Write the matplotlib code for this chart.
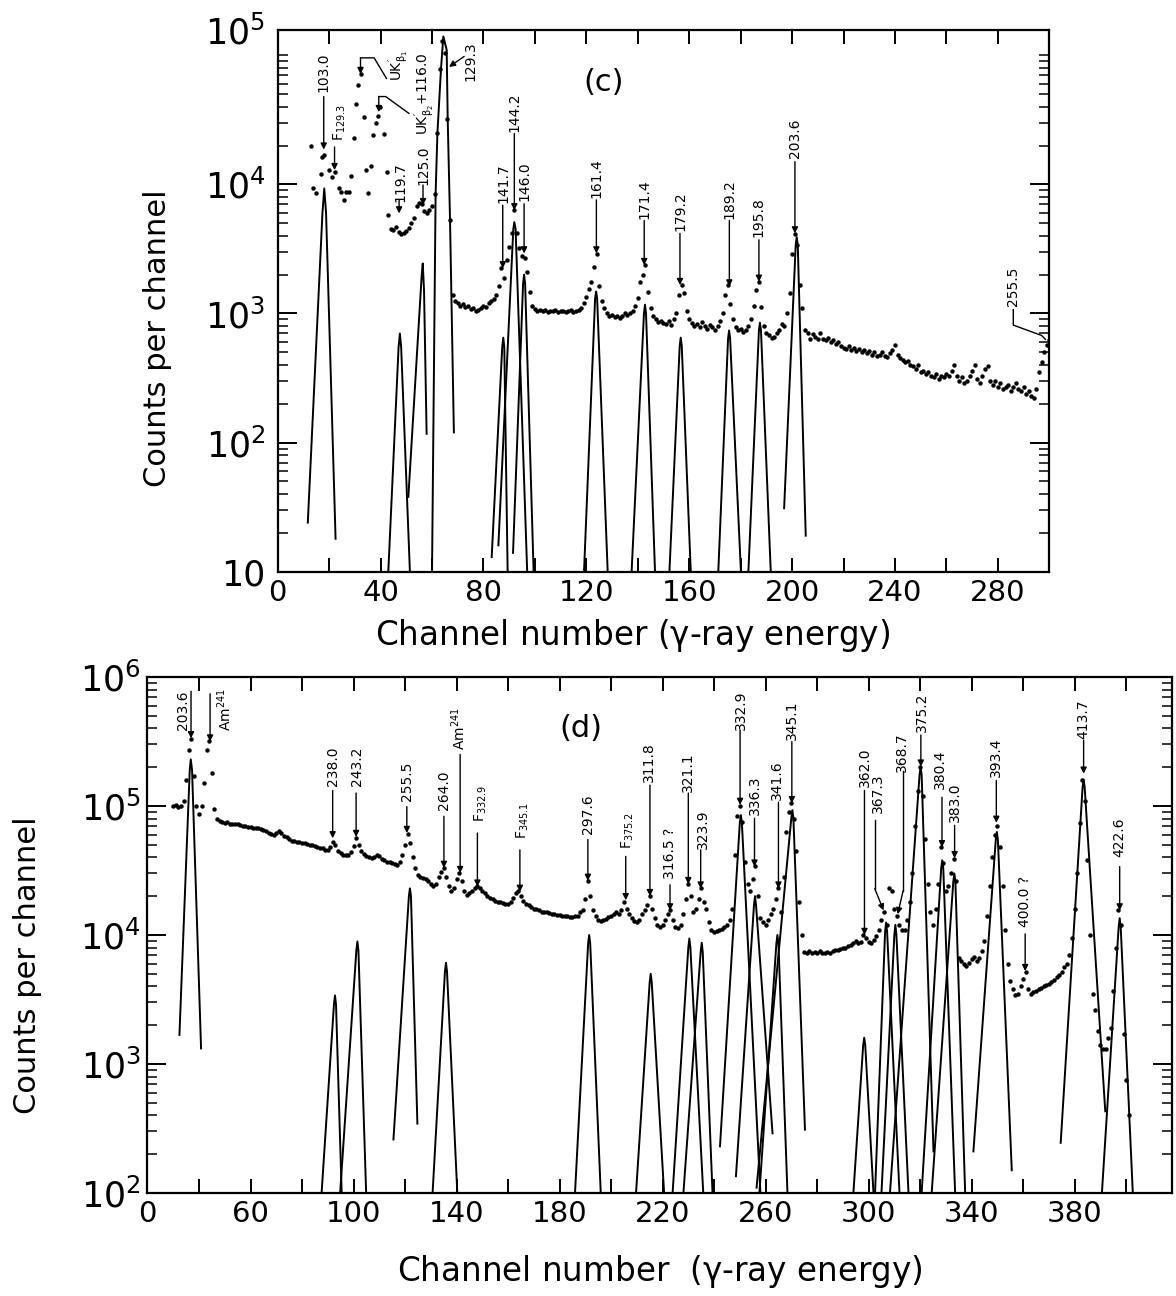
import numpy as np
import matplotlib
matplotlib.use("Agg")
import matplotlib.pyplot as plt
from matplotlib.ticker import FixedLocator, NullFormatter

plt.rcParams["font.family"] = ["DejaVu Sans"]
plt.rcParams["mathtext.fontset"] = "dejavusans"
plt.rcParams["mathtext.default"] = "regular"

# ======================= panel (c) data =======================
c_xray_ch = [12.9, 13.8, 14.7, 16.8, 17.4, 18.1, 19.9, 21.3, 22.2, 23.8, 24.8, 25.7, 26.7, 27.6,
             28.6, 29.5, 30.5, 31.4, 32.2, 33.4, 34.4, 35.3, 36.3, 37.2, 38.2, 39.1, 39.6, 41.5, 42.4]
c_xray_counts = [20000, 9400, 8600, 12000, 16400, 17000, 13000, 11400, 12500, 9400, 8800, 7600, 8700, 8800,
                 11600, 22700, 42000, 59000, 72000, 33000, 12900, 8600, 13900, 24000, 30000, 34000, 40000,
                 24500, 12400]

c_start_ch = 43
c_counts = [
    5800, 4500, 4400, 4700, 4300, 4100, 4200, 4350, 4600, 5000,
    5500, 6800, 7200, 7000, 6200, 6000, 6300, 6800, 8500, 25000,
    79000, 130000, 105000, 32000, 5300, 1400, 1250, 1200, 1150, 1180,
    1120, 1150, 1080, 1100, 1050, 1070, 1100, 1150, 1120, 1200,
    1250, 1300, 1400, 1620, 2240, 1900, 2600, 3300, 4200, 6300,
    4200, 3200, 2800, 2700, 2100, 1480, 1150, 1080, 1050, 1070,
    1040, 1060, 1030, 1050, 1040, 1060, 1030, 1050, 1040, 1020,
    1050, 1060, 1030, 1040, 1070, 1100, 1200, 1350, 1550, 1760,
    2300, 2900, 1620, 1250, 1100, 1000, 950, 980, 940, 960,
    920, 950, 1000, 970, 1000, 1050, 1150, 1310, 1760, 2000,
    2370, 1480, 1100, 950, 900, 860, 880, 840, 830, 870,
    820, 900, 1000, 1400, 1660, 1430, 1050, 900, 850, 800,
    830, 780, 860, 800, 760, 820, 780, 740, 800, 870,
    1000, 1380, 1660, 1180, 900, 780, 740, 760, 720, 740,
    800, 900, 1150, 1510, 1760, 1120, 800, 700, 680, 650,
    660, 700, 750, 830, 800, 1000, 1430, 2900, 4150, 3400,
    1660, 1100, 750, 700, 640, 690, 660, 630, 700, 640,
    620, 650, 600, 620, 580, 600, 560, 540, 530, 560,
    520, 540, 510, 530, 500, 520, 490, 510, 480, 500,
    470, 480, 500, 470, 460, 490, 520, 570, 480, 450,
    440, 420, 430, 400, 390, 370, 400, 350, 360, 340,
    350, 330, 320, 340, 310, 330, 320, 340, 330, 360,
    400, 330, 300, 320, 290, 300, 330, 360, 400, 310,
    290, 330, 370, 390, 300, 280, 300, 270, 290, 260,
    270, 280, 250, 270, 290, 260, 250, 270, 240, 250,
    230, 220, 260, 350, 420, 500, 570, 620,
]

# fitted peak shapes (vertices)
c_peak_x = [
    [11.7, 17.4, 18.1, 18.8, 22.5],
    [43.0, 47.0, 47.5, 48.0, 51.4],
    [50.8, 56.0, 56.4, 56.9, 57.9],
    [60.0, 61.4, 62.1, 63.5, 64.4, 65.7, 66.1, 67.0, 68.5],
    [83.2, 87.3, 87.7, 88.1, 89.4],
    [85.8, 91.6, 92.0, 92.5, 97.0],
    [91.5, 95.4, 95.8, 96.2, 99.5],
    [119.1, 123.4, 123.8, 124.2, 128.3],
    [137.6, 142.4, 142.8, 143.2, 146.7],
    [152.3, 156.3, 156.7, 157.1, 160.6],
    [171.3, 175.1, 175.5, 175.9, 180.1],
    [183.0, 187.1, 187.5, 187.9, 191.7],
    [196.9, 201.4, 201.8, 202.2, 205.3],
]
c_peak_y = [
    [24, 6000, 9300, 6000, 18],
    [10, 550, 700, 550, 10],
    [38, 2000, 2440, 1500, 117],
    [10, 8500, 25000, 79000, 140000, 110000, 32000, 5300, 120],
    [13, 550, 650, 550, 10],
    [16, 4500, 5100, 4500, 10],
    [14, 1700, 2000, 1700, 10],
    [10, 1300, 1480, 1300, 10],
    [10, 1000, 1170, 1000, 10],
    [10, 560, 650, 560, 10],
    [10, 640, 740, 640, 10],
    [10, 740, 850, 740, 10],
    [31, 3400, 3900, 3400, 19],
]

# annotations: label, arrow x, arrow tip, arrow top, text x, text y
c_labels = ["103.0", r"F$_{129.3}$", "119.7", "125.0", "141.7", "144.2", "146.0",
            "161.4", "171.4", "179.2", "189.2", "195.8", "203.6"]
c_arrow_x = [17.9, 22.1, 47.2, 56.5, 87.5, 92.0, 95.8, 123.9, 142.5, 156.4, 175.6, 187.1, 201.1]
c_arrow_tip = [18600, 12900, 5960, 6900, 2240, 6300, 2920, 2920, 2370, 1660, 1620, 1760, 4170]
c_arrow_top = [47900, 19500, 7590, 9900, 6900, 24800, 7080, 7590, 5250, 4170, 5250, 3720, 15000]
c_text_x = [17.9, 24.2, 47.8, 56.6, 87.7, 92.2, 96.1, 124.0, 142.4, 156.4, 175.5, 187.1, 201.1]
c_text_y = [73600, 30200, 10500, 14100, 10200, 36000, 10500, 11200, 7690, 6170, 7690, 5620, 22700]

# ======================= panel (d) data =======================
d_start_ch = 30
d_counts = [
    1.0e5, 1.02e5, 0.98e5, 1.0e5, 1.1e5, 1.6e5, 2.7e5, 3.3e5, 1.7e5, 1.0e5,
    8.7e4, 1.0e5, 1.5e5, 2.7e5, 3.2e5, 1.8e5, 9.4e4, 7.9e4, 7.6e4, 7.5e4,
    7.4e4, 7.5e4, 7.3e4, 7.3e4, 7.2e4, 7.2e4, 7.1e4, 7.0e4, 7.0e4, 6.9e4,
    6.9e4, 6.8e4, 6.8e4, 6.7e4, 6.6e4, 6.5e4, 6.4e4, 6.2e4, 6.1e4, 6.0e4,
    6.2e4, 6.4e4, 6.2e4, 5.9e4, 5.7e4, 5.5e4, 5.4e4, 5.35e4, 5.3e4, 5.25e4,
    5.2e4, 5.15e4, 5.1e4, 5.0e4, 4.95e4, 4.9e4, 4.8e4, 4.75e4, 4.7e4, 4.6e4,
    4.6e4, 4.8e4, 5.3e4, 5.0e4, 4.5e4, 4.3e4, 4.2e4, 4.15e4, 4.2e4, 4.4e4,
    4.9e4, 5.6e4, 5.0e4, 4.5e4, 4.25e4, 4.1e4, 4.0e4, 3.95e4, 4.0e4, 4.15e4,
    4.1e4, 3.9e4, 3.8e4, 3.7e4, 3.65e4, 3.6e4, 3.55e4, 3.5e4, 3.7e4, 4.2e4,
    5.0e4, 6.1e4, 5.2e4, 4.0e4, 3.3e4, 2.9e4, 2.8e4, 2.75e4, 2.7e4, 2.6e4,
    2.5e4, 2.4e4, 2.5e4, 2.8e4, 3.1e4, 3.3e4, 2.8e4, 2.4e4, 2.2e4, 2.3e4,
    2.7e4, 3.0e4, 2.6e4, 2.2e4, 2.05e4, 2.1e4, 2.2e4, 2.3e4, 2.4e4, 2.3e4,
    2.2e4, 2.1e4, 2.0e4, 1.95e4, 1.9e4, 1.85e4, 1.8e4, 1.8e4, 1.78e4, 1.75e4,
    1.75e4, 1.8e4, 1.95e4, 2.1e4, 2.2e4, 2.0e4, 1.85e4, 1.75e4, 1.7e4, 1.65e4,
    1.6e4, 1.58e4, 1.55e4, 1.52e4, 1.5e4, 1.5e4, 1.48e4, 1.46e4, 1.45e4, 1.44e4,
    1.42e4, 1.41e4, 1.4e4, 1.4e4, 1.38e4, 1.37e4, 1.4e4, 1.4e4, 1.5e4, 1.55e4,
    1.9e4, 2.6e4, 2.0e4, 1.55e4, 1.4e4, 1.3e4, 1.28e4, 1.3e4, 1.33e4, 1.38e4,
    1.4e4, 1.45e4, 1.5e4, 1.45e4, 1.55e4, 1.8e4, 1.6e4, 1.45e4, 1.35e4, 1.28e4,
    1.26e4, 1.3e4, 1.45e4, 1.55e4, 1.7e4, 2.0e4, 1.6e4, 1.35e4, 1.2e4, 1.16e4,
    1.2e4, 1.3e4, 1.45e4, 1.55e4, 1.3e4, 1.15e4, 1.13e4, 1.2e4, 1.45e4, 1.9e4,
    2.5e4, 2.0e4, 1.5e4, 1.6e4, 1.9e4, 2.3e4, 1.8e4, 1.6e4, 1.25e4, 1.1e4,
    1.05e4, 1.07e4, 1.1e4, 1.12e4, 1.15e4, 1.2e4, 1.3e4, 1.6e4, 4.2e4, 8.3e4,
    1.0e5, 7.5e4, 3.7e4, 2.5e4, 2.2e4, 2.7e4, 3.4e4, 2.0e4, 1.35e4, 1.25e4,
    1.2e4, 1.3e4, 1.45e4, 1.6e4, 1.9e4, 2.3e4, 1.5e4, 2.8e4, 6.3e4, 9.0e4,
    1.05e5, 8.0e4, 4.5e4, 1.8e4, 1.0e4, 7400, 7300, 7500, 7200, 7400,
    7300, 7500, 7200, 7300, 7400, 7200, 7500, 7600, 7700, 7800,
    7900, 8000, 8200, 8400, 8700, 9000, 8600, 8900, 1.0e4, 9500,
    8900, 8700, 9200, 9800, 1.1e4, 1.3e4, 1.5e4, 1.2e4, 2.3e4, 2.2e4,
    1.6e4, 1.4e4, 1.2e4, 1.1e4, 1.1e4, 1.3e4, 1.8e4, 3.0e4, 7.0e4, 1.3e5,
    2.0e5, 1.2e5, 5.5e4, 2.5e4, 1.5e4, 1.2e4, 1.6e4, 2.5e4, 4.8e4, 3.6e4,
    2.2e4, 2.4e4, 3.0e4, 3.9e4, 2.6e4, 6600, 6300, 6000, 5800, 6100,
    6500, 6800, 6300, 6600, 7500, 9000, 1.4e4, 2.4e4, 4.0e4, 6.0e4,
    7.0e4, 4.8e4, 2.4e4, 1.1e4, 6000, 4400, 3800, 3400, 3500, 4000,
    4600, 5200, 3800, 3500, 3600, 3700, 3800, 3900, 4000, 4100,
    4200, 4300, 4500, 4700, 4900, 5200, 5600, 6000, 7000, 9500,
    1.6e4, 3.0e4, 7.4e4, 1.6e5, 1.1e5, 3.8e4, 1.0e4, 3500, 2600, 1800,
    1400, 1300, 1300, 1600, 1900, 3700, 8000, 1.55e4, 1.2e4, 1700,
    750, 400,
]

d_peak_x = [
    [32.4, 36.4, 36.8, 37.3, 40.8],
    [87.6, 92.4, 92.8, 93.2, 95.4],
    [94.8, 101.1, 101.5, 101.9, 104.9],
    [115.5, 121.5, 121.9, 122.3, 124.8],
    [130.7, 135.5, 135.9, 136.3, 140.3],
    [186.0, 191.1, 191.5, 191.9, 196.0],
    [209.7, 215.0, 215.4, 215.8, 220.6],
    [223.9, 230.0, 230.4, 230.8, 235.8],
    [228.1, 234.8, 235.2, 235.6, 239.4],
    [242.3, 250.0, 250.4, 250.8, 258.0],
    [248.5, 255.5, 255.9, 256.3, 262.7],
    [257.6, 264.2, 264.6, 265.0, 268.5],
    [256.5, 270.0, 270.4, 270.8, 275.3],
    [294.1, 297.9, 298.3, 298.7, 301.9],
    [302.5, 306.4, 306.8, 307.2, 312.0],
    [305.0, 310.0, 310.4, 310.8, 315.5],
    [308.3, 319.8, 320.2, 320.6, 325.2],
    [320.6, 328.2, 328.6, 329.0, 333.6],
    [324.5, 332.9, 333.3, 333.7, 337.5],
    [340.7, 349.4, 349.8, 350.2, 355.6],
    [374.6, 383.1, 383.5, 383.9, 391.9],
    [390.6, 397.1, 397.5, 397.9, 402.6],
]
d_peak_y = [
    [1680, 1.9e5, 2.3e5, 1.9e5, 1320],
    [100, 2900, 3400, 2900, 100],
    [100, 7600, 8900, 7600, 100],
    [260, 2.0e4, 2.3e4, 2.0e4, 345],
    [100, 5200, 6100, 5200, 100],
    [100, 8600, 1.0e4, 8600, 100],
    [100, 4300, 5000, 4300, 100],
    [100, 8000, 9400, 8000, 100],
    [100, 7400, 8700, 7400, 100],
    [230, 7.4e4, 8.5e4, 7.4e4, 100],
    [135, 1.7e4, 2.0e4, 1.7e4, 290],
    [100, 8600, 1.0e4, 8600, 100],
    [110, 8.1e4, 9.3e4, 8.1e4, 310],
    [100, 1400, 1600, 1400, 100],
    [100, 1.05e4, 1.25e4, 1.05e4, 100],
    [100, 1.0e4, 1.2e4, 1.0e4, 100],
    [100, 1.75e5, 2.0e5, 1.75e5, 210],
    [100, 3.3e4, 3.8e4, 3.3e4, 100],
    [100, 2.6e4, 3.0e4, 2.6e4, 100],
    [210, 5.5e4, 6.3e4, 5.5e4, 150],
    [245, 1.4e5, 1.6e5, 1.4e5, 430],
    [100, 1.15e4, 1.35e4, 1.15e4, 100],
]

d_labels = ["203.6", r"Am$^{241}$", "238.0", "243.2", "255.5", "264.0", r"Am$^{241}$",
            r"F$_{332.9}$", r"F$_{345.1}$", "297.6", r"F$_{375.2}$", "311.8", "316.5 ?",
            "321.1", "323.9", "332.9", "336.3", "341.6", "345.1", "362.0", "375.2",
            "380.4", "383.0", "393.4", "400.0 ?", "413.7", "422.6"]
d_arrow_x = [36.9, 44.3, 91.9, 101.0, 120.7, 135.1, 141.4, 148.1, 164.6, 191.0, 205.7, 215.1,
             222.9, 230.0, 234.8, 250.1, 255.7, 265.0, 270.2, 298.4, 320.3, 328.5, 333.4,
             349.6, 360.8, 383.5, 397.5]
d_arrow_tip = [3.35e5, 3.16e5, 5.62e4, 5.75e4, 6.17e4, 3.31e4, 3.02e4, 2.37e4, 2.16e4, 2.63e4,
               1.86e4, 2.0e4, 1.55e4, 2.48e4, 2.29e4, 1.02e5, 3.39e4, 2.29e4, 1.05e5, 1.0e4,
               2.02e5, 4.79e4, 3.94e4, 7.41e4, 5250, 1.78e5, 1.55e4]
d_arrow_top = [7.76e5, 7.41e5, 1.32e5, 1.26e5, 9.89e4, 8.32e4, 2.51e5, 6.17e4, 4.57e4, 5.5e4,
               4.07e4, 1.45e5, 2.45e4, 1.26e5, 4.57e4, 3.89e5, 8.04e4, 1.07e5, 3.16e5, 1.32e5,
               3.55e5, 1.17e5, 7.08e4, 1.58e5, 1.02e4, 3.24e5, 3.39e4]
d_text_x = [33.6, 50.1, 92.2, 101.5, 120.7, 135.1, 140.8, 149.5, 165.8, 191.0, 206.5, 214.8,
            222.9, 230.0, 235.8, 250.4, 255.9, 264.6, 270.2, 298.4, 320.7, 327.8, 333.4,
            349.3, 360.7, 383.5, 397.5]
d_text_y = [5.56e5, 5.56e5, 2.04e5, 2.02e5, 1.55e5, 1.32e5, 3.98e5, 1.05e5, 7.76e4, 8.71e4,
            6.46e4, 2.19e5, 4.32e4, 1.82e5, 6.61e4, 5.56e5, 1.22e5, 1.58e5, 4.62e5, 2.0e5,
            5.37e5, 1.91e5, 1.07e5, 2.4e5, 1.82e4, 4.68e5, 5.75e4]

# tick labels
c_xticks = list(range(0, 301, 20))
c_xlabels = ["0", "", "40", "", "80", "", "120", "", "160", "", "200", "", "240", "", "280", ""]
d_xticks = list(range(20, 401, 20))
d_xlabels = ["0", "", "60", "", "100", "", "140", "", "180", "", "220", "", "260", "", "300",
             "", "340", "", "380", ""]
c_yticks = [10, 100, 1000, 1e4, 1.57e5]
c_ylabels = ["10", "$10^2$", "$10^3$", "$10^4$", "$10^5$"]
d_yticks = [1e2, 1e3, 1e4, 1e5, 1e6]
d_ylabels = ["$10^2$", "$10^3$", "$10^4$", "$10^5$", "$10^6$"]

# ======================= figure =======================
W, H = 1176, 1296
fig = plt.figure(figsize=(W / 100, H / 100), dpi=100)


def axes_px(l, t, r, b):
    return fig.add_axes([l / W, 1 - b / H, (r - l) / W, (b - t) / H])


ax1 = axes_px(277.7, 30, 1049.3, 571.7)
ax2 = axes_px(147.5, 677, 1171.7, 1193)

ARW = dict(arrowstyle="-|>", color="k", lw=1.0, mutation_scale=9, shrinkA=0, shrinkB=0)
MS = 3.2


def style(ax, ylab_pad, ylab_size):
    ax.set_yscale("log")
    for s in ax.spines.values():
        s.set_linewidth(1.6)
    ax.tick_params(axis="x", which="major", direction="in", length=10, width=1.4,
                   top=True, bottom=True, labelsize=21, pad=5)
    ax.tick_params(axis="y", which="major", direction="in", length=14, width=1.4,
                   left=True, right=True, labelsize=ylab_size, pad=ylab_pad)
    ax.tick_params(axis="y", which="minor", direction="in", length=7, width=1.1,
                   left=True, right=True)


def annotate(ax, labels, ax_x, tips, tops, tx, ty):
    for lab, x, tip, top, xx, yy in zip(labels, ax_x, tips, tops, tx, ty):
        ax.annotate("", xy=(x, tip), xytext=(x, top), arrowprops=ARW)
        ax.text(xx, yy, lab, rotation=90, ha="center", va="center", fontsize=10)


# ---- panel (c)
style(ax1, 9, 25)
c_ch = np.arange(c_start_ch, c_start_ch + len(c_counts))
ax1.plot(c_xray_ch, c_xray_counts, "o", color="k", ms=MS, mew=0)
ax1.plot(c_ch, c_counts, "o", color="k", ms=MS, mew=0)
for xs, ys in zip(c_peak_x, c_peak_y):
    ax1.plot(xs, ys, "-", color="k", lw=1.4)
annotate(ax1, c_labels, c_arrow_x, c_arrow_tip, c_arrow_top, c_text_x, c_text_y)
# K x-ray leaders
ax1.annotate("", xy=(32.2, 71600), xytext=(32.2, 95500), arrowprops=ARW)
ax1.plot([32.2, 37.5, 42.3], [95500, 95500, 66100], color="k", lw=1.0)
ax1.text(47.0, 83000, r"$\mathregular{UK}^{\prime}_{\beta_1}$", rotation=90,
         ha="center", va="center", fontsize=10)
ax1.annotate("", xy=(39.3, 36300), xytext=(39.3, 47900), arrowprops=ARW)
ax1.plot([39.3, 42.0, 51.0], [47900, 47900, 35500], color="k", lw=1.0)
ax1.text(57.0, 50100, r"$\mathregular{UK}^{\prime}_{\beta_2}\mathregular{+116.0}$", rotation=90,
         ha="center", va="center", fontsize=10)
ax1.annotate("", xy=(66.6, 81300), xytext=(72.5, 98000), arrowprops=ARW)
ax1.text(75.0, 90200, "129.3", rotation=90, ha="center", va="center", fontsize=10)
ax1.plot([286.0, 286.0, 297.0, 298.5], [1070, 813, 676, 630], color="k", lw=1.0)
ax1.text(286.0, 1630, "255.5", rotation=90, ha="center", va="center", fontsize=10)
ax1.text(126.9, 62000, "(c)", ha="center", va="center", fontsize=22)

ax1.set_xlim(0, 300)
ax1.set_ylim(10, 1.57e5)
ax1.set_xticks(c_xticks, c_xlabels)
ax1.set_yticks(c_yticks, c_ylabels)
ax1.yaxis.set_minor_locator(FixedLocator([k * 10.0 ** n for n in range(1, 5) for k in range(2, 10)] + [1e5]))
ax1.yaxis.set_minor_formatter(NullFormatter())

# ---- panel (d)
style(ax2, 5, 25)
d_ch = np.arange(d_start_ch, d_start_ch + len(d_counts))
ax2.plot(d_ch, d_counts, "o", color="k", ms=MS, mew=0)
for xs, ys in zip(d_peak_x, d_peak_y):
    ax2.plot(xs, ys, "-", color="k", lw=1.4)
annotate(ax2, d_labels, d_arrow_x, d_arrow_tip, d_arrow_top, d_text_x, d_text_y)
# 367.3 and 368.7 bent leaders
ax2.plot([302.4, 302.4], [7.76e4, 2.29e4], color="k", lw=1.0)
ax2.annotate("", xy=(305.8, 1.55e4), xytext=(302.4, 2.29e4), arrowprops=ARW)
ax2.text(303.8, 1.26e5, "367.3", rotation=90, ha="center", va="center", fontsize=10)
ax2.plot([313.4, 313.4], [1.86e5, 2.2e4], color="k", lw=1.0)
ax2.annotate("", xy=(311.3, 1.45e4), xytext=(313.4, 2.2e4), arrowprops=ARW)
ax2.text(313.1, 2.63e5, "368.7", rotation=90, ha="center", va="center", fontsize=10)
ax2.text(188.2, 4.0e5, "(d)", ha="center", va="center", fontsize=22)

ax2.set_xlim(20, 417.7)
ax2.set_ylim(1e2, 1e6)
ax2.set_xticks(d_xticks, d_xlabels)
ax2.set_yticks(d_yticks, d_ylabels)
ax2.yaxis.set_minor_locator(FixedLocator([k * 10.0 ** n for n in range(2, 6) for k in range(2, 10)]))
ax2.yaxis.set_minor_formatter(NullFormatter())

# axis titles
fig.text(158 / W, 1 - 338 / H, "Counts per channel", rotation=90, ha="center", va="center", fontsize=22)
fig.text(633 / W, 1 - 636 / H, r"Channel number ($\gamma$-ray energy)", ha="center", va="center", fontsize=23.5)
fig.text(28 / W, 1 - 965 / H, "Counts per channel", rotation=90, ha="center", va="center", fontsize=22)
fig.text(660 / W, 1 - 1272 / H, r"Channel number  ($\gamma$-ray energy)", ha="center", va="center", fontsize=23.5)

fig.savefig("out.png", dpi=100, facecolor="white")
